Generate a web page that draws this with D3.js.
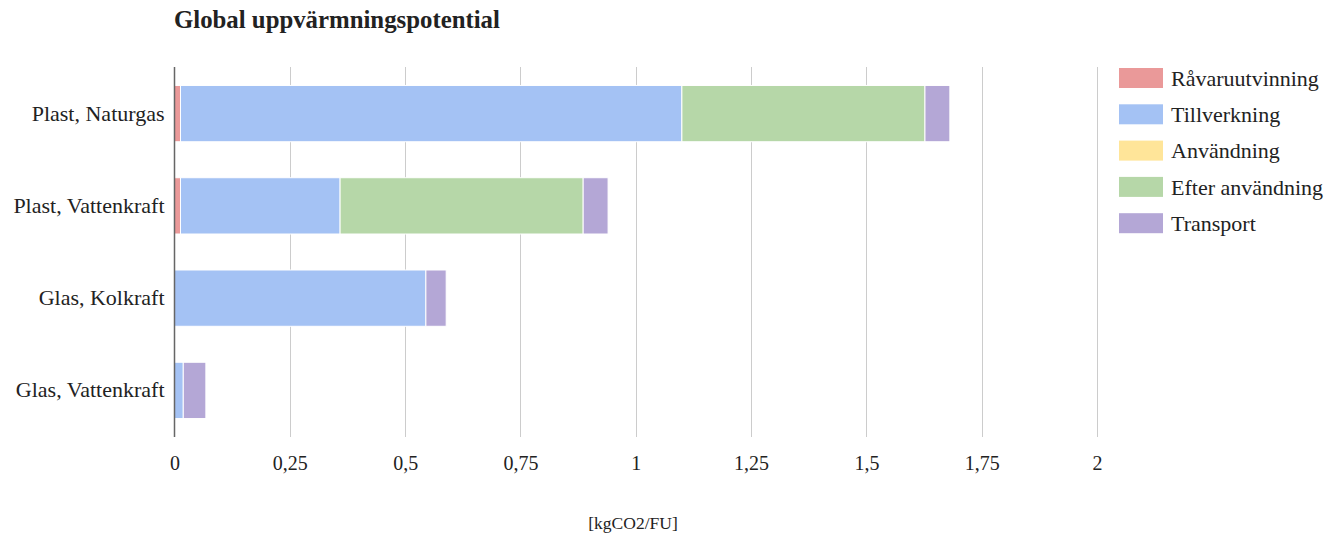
<!DOCTYPE html>
<html>
<head>
<meta charset="utf-8">
<script src="https://cdn.jsdelivr.net/npm/d3@7"></script>
<style>
  html, body { margin: 0; padding: 0; background: #fff; }
  svg text { font-family: "Liberation Serif", "Times New Roman", serif; fill: #222; }
</style>
</head>
<body>
<svg id="chart" width="1338" height="537"></svg>
<script>
// Scenarios (one bar each) and life-cycle stages (stacked segments)
const categories = ["Plast, Naturgas", "Plast, Vattenkraft", "Glas, Kolkraft", "Glas, Vattenkraft"];
const stages = ["Råvaruutvinning", "Tillverkning", "Användning", "Efter användning", "Transport"];

// kgCO2 per functional unit, per stage, in category order
const ravaruutvinning = [0.013, 0.013, 0, 0];
const tillverkning    = [1.087, 0.346, 0.545, 0.019];
const anvandning      = [0, 0, 0, 0];
const efterAnvandning = [0.527, 0.527, 0, 0];
const transport       = [0.054, 0.054, 0.044, 0.049];

const xTicks = [0, 0.25, 0.5, 0.75, 1, 1.25, 1.5, 1.75, 2];
const title = "Global uppvärmningspotential";
const xTitle = "[kgCO2/FU]";

const stageColors = ["#ea9999", "#a4c2f4", "#ffe599", "#b6d7a8", "#b4a7d6"];

const rows = categories.map((c, i) => ({
  category: c,
  "Råvaruutvinning": ravaruutvinning[i],
  "Tillverkning": tillverkning[i],
  "Användning": anvandning[i],
  "Efter användning": efterAnvandning[i],
  "Transport": transport[i]
}));

const svg = d3.select("#chart");
const plot = { left: 174.5, right: 1097, top: 67, bottom: 437 };

const x = d3.scaleLinear().domain([0, 2]).range([plot.left, plot.right]);
const y = d3.scaleBand().domain(categories).range([plot.top, plot.bottom]).paddingInner(0.39).paddingOuter(0.2);
const color = d3.scaleOrdinal().domain(stages).range(stageColors);

// Title
svg.append("text")
  .attr("x", 174).attr("y", 28)
  .style("font-size", "24.8px").style("font-weight", "bold")
  .text(title);

// Vertical gridlines
svg.append("g")
  .selectAll("line")
  .data(xTicks.filter(d => d !== 0))
  .join("line")
  .attr("x1", d => Math.round(x(d)) + 0.5).attr("x2", d => Math.round(x(d)) + 0.5)
  .attr("y1", plot.top).attr("y2", plot.bottom)
  .attr("stroke", "#cccccc").attr("stroke-width", 1);

// Stacked bars
const series = d3.stack().keys(stages)(rows);
svg.append("g")
  .selectAll("g")
  .data(series)
  .join("g")
  .attr("fill", d => color(d.key))
  .selectAll("rect")
  .data(d => d.filter(s => s[1] - s[0] > 0))
  .join("rect")
  .attr("x", d => x(d[0]))
  .attr("y", d => y(d.data.category))
  .attr("width", d => x(d[1]) - x(d[0]))
  .attr("height", y.bandwidth())
  .attr("stroke", "#ffffff").attr("stroke-width", 1);

// Baseline at zero
svg.append("line")
  .attr("x1", x(0)).attr("x2", x(0))
  .attr("y1", plot.top).attr("y2", plot.bottom)
  .attr("stroke", "#666666").attr("stroke-width", 1.5);

// X axis tick labels
const xAxis = d3.axisBottom(x)
  .tickValues(xTicks)
  .tickSize(0)
  .tickPadding(0)
  .tickFormat(d => String(d).replace(".", ","));
const gx = svg.append("g").attr("transform", `translate(0, 470)`).call(xAxis);
gx.select(".domain").remove();
gx.selectAll("text").style("font-size", "20px").attr("fill", "#222").attr("dy", "0").attr("y", 0);

// Y axis category labels
const yAxis = d3.axisLeft(y).tickSize(0).tickPadding(10);
const gy = svg.append("g").attr("transform", `translate(${plot.left}, 0)`).call(yAxis);
gy.select(".domain").remove();
gy.selectAll("text").style("font-size", "22px").attr("fill", "#222").attr("dy", "0.32em");

// X axis title
svg.append("text")
  .attr("x", 633).attr("y", 529)
  .attr("text-anchor", "middle")
  .style("font-size", "17.5px")
  .text(xTitle);

// Legend
const legend = svg.append("g").attr("transform", "translate(1119, 68)");
const item = legend.selectAll("g")
  .data(stages)
  .join("g")
  .attr("transform", (d, i) => `translate(0, ${i * 36.3})`);
item.append("rect")
  .attr("width", 44).attr("height", 20)
  .attr("fill", d => color(d));
item.append("text")
  .attr("x", 52).attr("y", 10).attr("dy", "0.35em")
  .style("font-size", "22px")
  .text(d => d);
</script>
</body>
</html>
